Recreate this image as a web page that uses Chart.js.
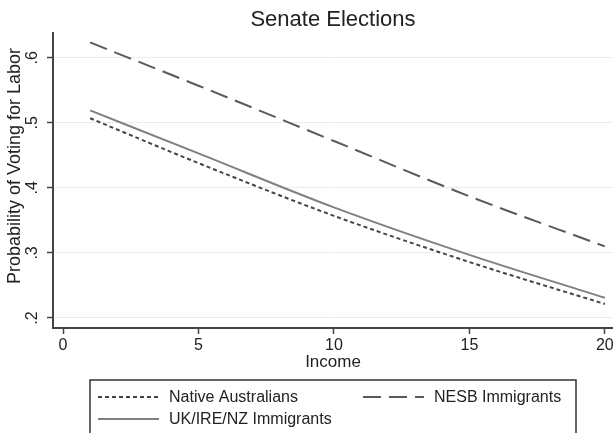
<!DOCTYPE html>
<html>
<head>
<meta charset="utf-8">
<title>Senate Elections</title>
<script src="https://cdn.jsdelivr.net/npm/chart.js@4/dist/chart.umd.min.js"></script>
<style>
  html, body { margin: 0; padding: 0; background: #fff; overflow: hidden; }
  canvas { display: block; }
</style>
</head>
<body>
<canvas id="senateChart" width="613" height="450"></canvas>
<script>
// values
const incomeLevels = [1, 5, 10, 15, 20];
const nativeAus = [0.507, 0.438, 0.357, 0.286, 0.2215];
const nesbImm = [0.6235, 0.557, 0.472, 0.387, 0.31];
const ukIreNz = [0.519, 0.453, 0.370, 0.297, 0.231];

const xTickValues = [0, 5, 10, 15, 20];
const yTickValues = [0.2, 0.3, 0.4, 0.5, 0.6];

const FONT = "'Liberation Sans', Arial, Helvetica, sans-serif";
const AXIS_COLOR = '#444';

function toPoints(vals) {
  return incomeLevels.map((x, i) => ({ x: x, y: vals[i] }));
}

function fmtProb(v) {
  return v.toFixed(1).replace(/^0/, '');
}

// title, rotated y labels, y title and the stata style legend box
const extrasPlugin = {
  id: 'extras',
  afterDraw(chart) {
    const ctx = chart.ctx;
    const area = chart.chartArea;
    const yScale = chart.scales.y;
    ctx.save();

    // title
    ctx.fillStyle = '#222';
    ctx.font = '22px ' + FONT;
    ctx.textAlign = 'center';
    ctx.textBaseline = 'middle';
    ctx.fillText('Senate Elections', (area.left + area.right) / 2, 20);

    // y tick labels, rotated
    ctx.font = '16px ' + FONT;
    yTickValues.forEach(v => {
      const py = yScale.getPixelForValue(v);
      ctx.save();
      ctx.translate(33, py);
      ctx.rotate(-Math.PI / 2);
      ctx.fillText(fmtProb(v), 0, 0);
      ctx.restore();
    });

    // y title
    ctx.font = '18px ' + FONT;
    ctx.save();
    ctx.translate(15, 166);
    ctx.rotate(-Math.PI / 2);
    ctx.fillText('Probability of Voting for Labor', 0, 0);
    ctx.restore();

    // legend
    ctx.strokeStyle = '#333';
    ctx.lineWidth = 1.5;
    ctx.strokeRect(90, 380, 486, 90);

    const slots = [
      { x: 98, y: 397 },
      { x: 363, y: 397 },
      { x: 98, y: 419 }
    ];
    ctx.font = '16px ' + FONT;
    ctx.textAlign = 'left';
    chart.data.datasets.forEach((ds, i) => {
      const s = slots[i];
      ctx.beginPath();
      ctx.setLineDash(ds.borderDash || []);
      ctx.strokeStyle = ds.borderColor;
      ctx.lineWidth = ds.borderWidth;
      ctx.moveTo(s.x, s.y);
      ctx.lineTo(s.x + 61, s.y);
      ctx.stroke();
      ctx.setLineDash([]);
      ctx.fillStyle = '#222';
      ctx.fillText(ds.label, s.x + 71, s.y + 1);
    });

    ctx.restore();
  }
};

function createSenateChart() {
  const ctx = document.getElementById('senateChart').getContext('2d');
  new Chart(ctx, {
    type: 'line',
    data: {
      datasets: [
        {
          label: 'Native Australians',
          data: toPoints(nativeAus),
          borderColor: '#444',
          borderWidth: 2,
          borderDash: [4, 3]
        },
        {
          label: 'NESB Immigrants',
          data: toPoints(nesbImm),
          borderColor: '#5a5a5a',
          borderWidth: 2,
          borderDash: [18, 8]
        },
        {
          label: 'UK/IRE/NZ Immigrants',
          data: toPoints(ukIreNz),
          borderColor: '#808080',
          borderWidth: 2
        }
      ]
    },
    options: {
      responsive: false,
      animation: false,
      devicePixelRatio: 1,
      layout: { padding: { top: 33, bottom: 72, left: 0, right: 0 } },
      elements: {
        point: { radius: 0 },
        line: { cubicInterpolationMode: 'monotone', fill: false }
      },
      plugins: {
        legend: { display: false },
        title: { display: false },
        tooltip: { enabled: false }
      },
      scales: {
        x: {
          type: 'linear',
          min: -0.37,
          max: 20.3,
          afterBuildTicks: scale => {
            scale.ticks = xTickValues.map(v => ({ value: v }));
          },
          afterFit: scale => {
            scale.height = 50;
            scale.paddingLeft = 0;
            scale.paddingRight = 0;
          },
          grid: {
            drawOnChartArea: false,
            drawTicks: true,
            tickLength: 6,
            tickColor: AXIS_COLOR,
            tickWidth: 1.5
          },
          border: { display: true, color: AXIS_COLOR, width: 2 },
          ticks: {
            color: '#222',
            font: { family: FONT, size: 16 },
            padding: 2,
            maxRotation: 0,
            callback: v => String(v)
          },
          title: {
            display: true,
            text: 'Income',
            color: '#222',
            font: { family: FONT, size: 17 },
            padding: { top: 0, bottom: 5 }
          }
        },
        y: {
          type: 'linear',
          min: 0.1846,
          max: 0.638,
          afterBuildTicks: scale => {
            scale.ticks = yTickValues.map(v => ({ value: v }));
          },
          afterFit: scale => {
            scale.width = 53;
            scale.paddingTop = 0;
            scale.paddingBottom = 0;
          },
          grid: {
            color: '#ececec',
            lineWidth: 1,
            drawTicks: true,
            tickLength: 6,
            tickColor: AXIS_COLOR,
            tickWidth: 1.5
          },
          border: { display: true, color: AXIS_COLOR, width: 2 },
          ticks: { display: false }
        }
      }
    },
    plugins: [extrasPlugin]
  });
}

createSenateChart();
</script>
</body>
</html>
